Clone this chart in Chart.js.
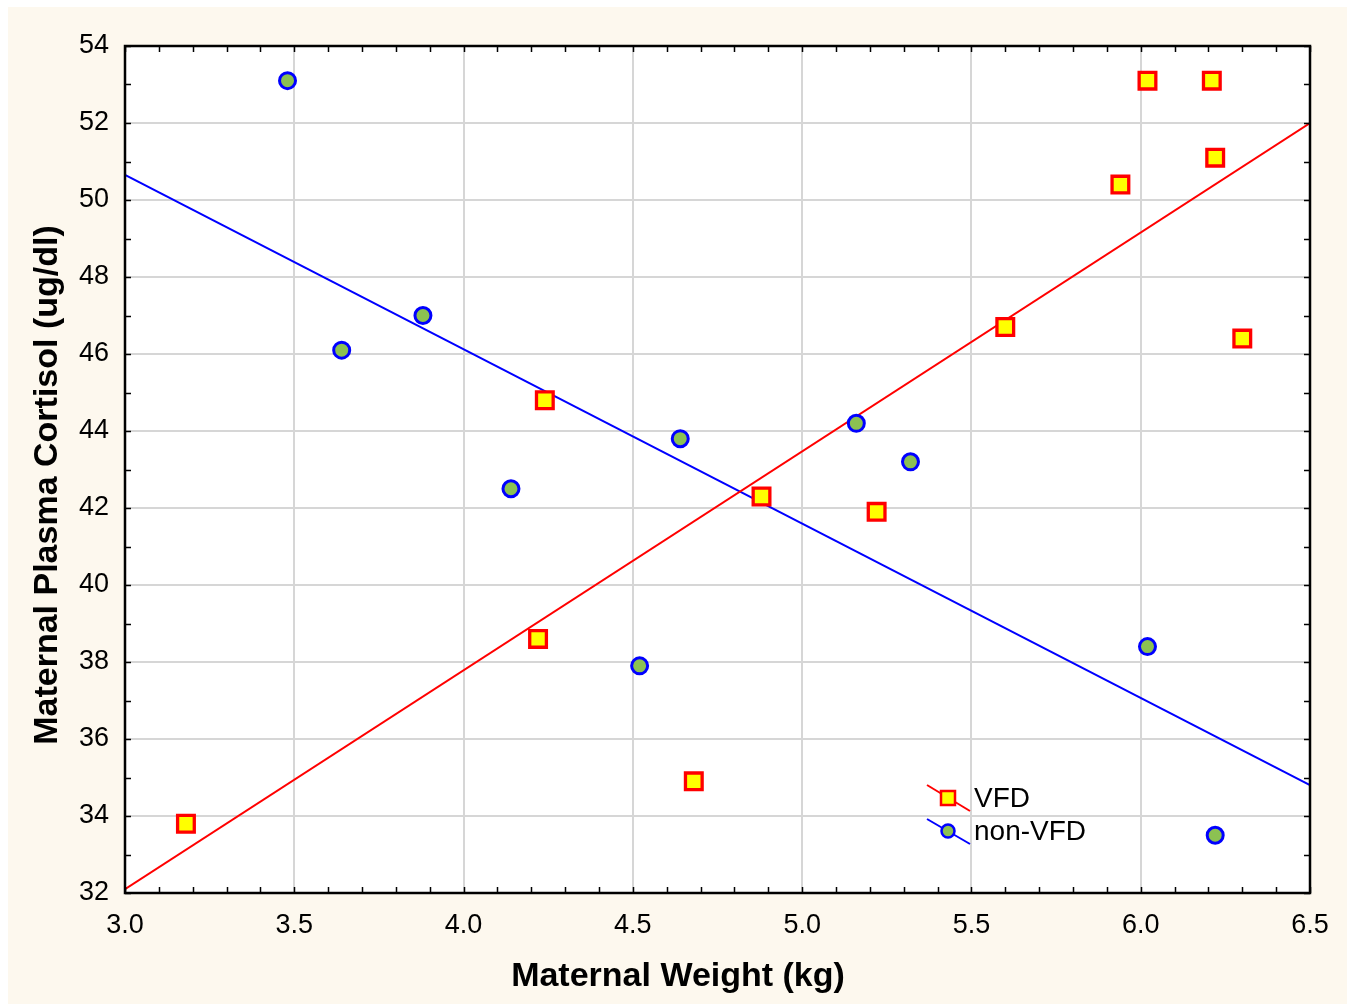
<!DOCTYPE html>
<html><head><meta charset="utf-8">
<script src="https://cdn.jsdelivr.net/npm/chart.js@4"></script>
<style>html,body{margin:0;padding:0;background:#fff;overflow:hidden}</style>
</head><body>
<canvas id="c" width="1351" height="1004"></canvas>
<script>
// ---- data ----
const vfdWeight    = [3.18, 4.22, 4.24, 4.68, 4.88, 5.22, 5.60, 5.94, 6.02, 6.21, 6.22, 6.30];
const vfdCortisol  = [33.8, 38.6, 44.8, 34.9, 42.3, 41.9, 46.7, 50.4, 53.1, 53.1, 51.1, 46.4];
const nonWeight    = [3.48, 3.64, 3.88, 4.14, 4.52, 4.64, 5.16, 5.32, 6.02, 6.22];
const nonCortisol  = [53.1, 46.1, 47.0, 42.5, 37.9, 43.8, 44.2, 43.2, 38.4, 33.5];
const fitWeight       = [3.0, 6.5];
const vfdFitCortisol  = [32.1, 52.0];
const nonFitCortisol  = [50.65, 34.8];
const seriesNames = ['VFD', 'non-VFD'];
const xTitle = 'Maternal Weight (kg)';
const yTitle = 'Maternal Plasma Cortisol (ug/dl)';

const FONT = "'Liberation Sans', Arial, sans-serif";
const toPts = (xs, ys) => xs.map((x, i) => ({x, y: ys[i]}));

const bgPlugin = {
  id: 'bg',
  beforeDraw(chart) {
    const ctx = chart.ctx, a = chart.chartArea;
    ctx.save();
    ctx.fillStyle = '#ffffff';
    ctx.fillRect(0, 0, chart.width, chart.height);
    ctx.fillStyle = '#fdf8ee';
    ctx.fillRect(8, 7, 1339, 997);
    ctx.fillStyle = '#ffffff';
    ctx.fillRect(a.left, a.top, a.right - a.left, a.bottom - a.top);
    ctx.restore();
  },
  afterDatasetsDraw(chart) {
    const ctx = chart.ctx, a = chart.chartArea;
    const xs = chart.scales.x, ys = chart.scales.y;
    ctx.save();
    ctx.strokeStyle = '#000';
    ctx.lineWidth = 1.5;
    const tl = 6;
    ctx.beginPath();
    for (let i = 0; i <= 35; i++) {
      const px = Math.round(xs.getPixelForValue(3 + i * 0.1)) + 0.5;
      ctx.moveTo(px, a.bottom); ctx.lineTo(px, a.bottom - tl);
      ctx.moveTo(px, a.top); ctx.lineTo(px, a.top + tl);
    }
    for (let v = 32; v <= 54; v++) {
      const py = Math.round(ys.getPixelForValue(v)) + 0.5;
      ctx.moveTo(a.left, py); ctx.lineTo(a.left + tl, py);
      ctx.moveTo(a.right, py); ctx.lineTo(a.right - tl, py);
    }
    ctx.stroke();
    ctx.lineWidth = 2.5;
    ctx.strokeRect(a.left, a.top, a.right - a.left, a.bottom - a.top);

    // axis titles
    ctx.fillStyle = '#000';
    ctx.font = 'bold 34px ' + FONT;
    ctx.textAlign = 'center';
    ctx.textBaseline = 'alphabetic';
    ctx.fillText(xTitle, 678, 986);
    ctx.save();
    ctx.translate(57, 485);
    ctx.rotate(-Math.PI / 2);
    ctx.fillText(yTitle, 0, 0);
    ctx.restore();

    // legend
    const lx = a.right - 383, ly1 = 798, ly2 = 831;
    ctx.lineWidth = 2;
    ctx.strokeStyle = '#ff0000';
    ctx.beginPath(); ctx.moveTo(lx, ly1 - 13); ctx.lineTo(lx + 43, ly1 + 13); ctx.stroke();
    ctx.fillStyle = '#ffff00';
    ctx.lineWidth = 2.5;
    ctx.fillRect(lx + 14, ly1 - 7, 14, 14);
    ctx.strokeRect(lx + 14, ly1 - 7, 14, 14);
    ctx.strokeStyle = '#0000ff';
    ctx.lineWidth = 2;
    ctx.beginPath(); ctx.moveTo(lx, ly2 - 12); ctx.lineTo(lx + 43, ly2 + 13); ctx.stroke();
    ctx.fillStyle = '#8cc152';
    ctx.lineWidth = 2.5;
    ctx.beginPath(); ctx.arc(lx + 21, ly2, 6.5, 0, Math.PI * 2); ctx.fill(); ctx.stroke();
    ctx.fillStyle = '#000';
    ctx.font = '28px ' + FONT;
    ctx.textBaseline = 'middle';
    ctx.textAlign = 'left';
    ctx.fillText(seriesNames[0], lx + 47, ly1 + 1);
    ctx.fillText(seriesNames[1], lx + 47, ly2 + 1);
    ctx.restore();
  }
};

new Chart(document.getElementById('c'), {
  type: 'scatter',
  data: {
    datasets: [
      { label: seriesNames[0] + ' fit', type: 'line', data: toPts(fitWeight, vfdFitCortisol),
        borderColor: '#ff0000', borderWidth: 2, pointRadius: 0, fill: false, order: 3 },
      { label: seriesNames[1] + ' fit', type: 'line', data: toPts(fitWeight, nonFitCortisol),
        borderColor: '#0000ff', borderWidth: 2, pointRadius: 0, fill: false, order: 3 },
      { label: seriesNames[0], data: toPts(vfdWeight, vfdCortisol), pointStyle: 'rect',
        pointRadius: 11.8, pointBackgroundColor: '#ffff00', pointBorderColor: '#ff0000', pointBorderWidth: 3.3, order: 1 },
      { label: seriesNames[1], data: toPts(nonWeight, nonCortisol), pointStyle: 'circle',
        pointRadius: 8, pointBackgroundColor: '#8cc152', pointBorderColor: '#0000ff', pointBorderWidth: 3, order: 1 }
    ]
  },
  options: {
    responsive: false,
    animation: false,
    events: [],
    layout: { padding: { left: 0, right: 41, top: 46, bottom: 0 } },
    plugins: { legend: { display: false }, tooltip: { enabled: false } },
    scales: {
      x: {
        type: 'linear', min: 3.0, max: 6.5,
        ticks: { stepSize: 0.5, color: '#000', font: { family: FONT, size: 27 }, padding: 16,
                 callback: v => Number(v).toFixed(1) },
        grid: { color: '#d6d6d6', lineWidth: 2, drawTicks: false },
        border: { display: false },
        title: { display: false },
        afterFit(s) { s.height = 111; }
      },
      y: {
        type: 'linear', min: 32, max: 54,
        ticks: { stepSize: 2, color: '#000', font: { family: FONT, size: 27 }, padding: 16 },
        grid: { color: '#d6d6d6', lineWidth: 2, drawTicks: false },
        border: { display: false },
        title: { display: false },
        afterFit(s) { s.width = 125; }
      }
    }
  },
  plugins: [bgPlugin]
});
</script>
</body></html>
